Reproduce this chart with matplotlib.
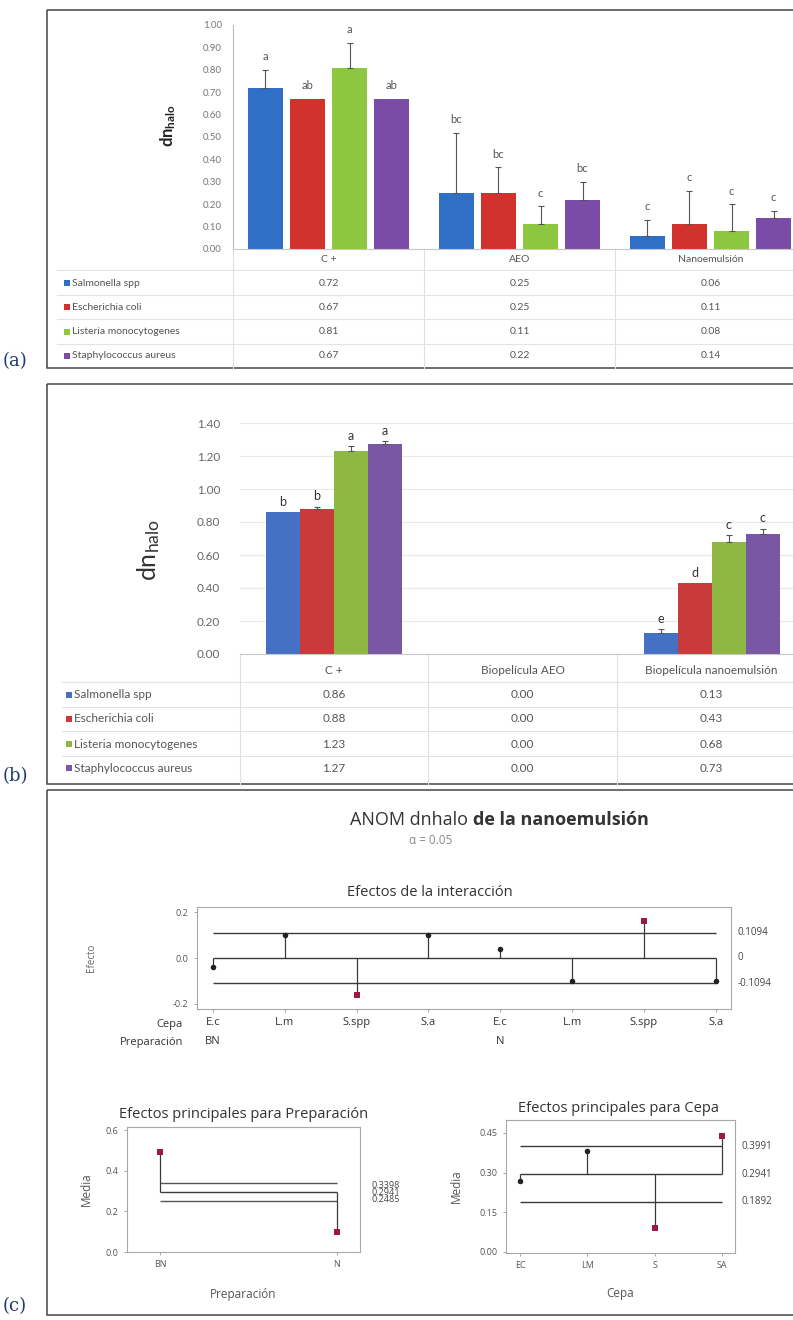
import numpy as np
import matplotlib
matplotlib.use('Agg')
import matplotlib.pyplot as plt
from matplotlib.patches import Rectangle

# ---------------- data ----------------
strains = ['Salmonella spp', 'Escherichia coli', 'Listeria monocytogenes', 'Staphylococcus aureus']

# (a) halo diameter, direct application
groups_a = ['C +', 'AEO', 'Nanoemulsión']
salmonella_a = [0.72, 0.25, 0.06]
ecoli_a = [0.67, 0.25, 0.11]
listeria_a = [0.81, 0.11, 0.08]
staph_a = [0.67, 0.22, 0.14]
err_salmonella_a = [0.08, 0.27, 0.07]
err_ecoli_a = [0.0, 0.115, 0.15]
err_listeria_a = [0.11, 0.08, 0.12]
err_staph_a = [0.0, 0.08, 0.03]
let_salmonella_a = ['a', 'bc', 'c']
let_ecoli_a = ['ab', 'bc', 'c']
let_listeria_a = ['a', 'c', 'c']
let_staph_a = ['ab', 'bc', 'c']

# (b) halo diameter, biofilms
groups_b = ['C +', 'Biopelícula AEO', 'Biopelícula nanoemulsión']
salmonella_b = [0.86, 0.00, 0.13]
ecoli_b = [0.88, 0.00, 0.43]
listeria_b = [1.23, 0.00, 0.68]
staph_b = [1.27, 0.00, 0.73]
err_salmonella_b = [0.0, 0.0, 0.02]
err_ecoli_b = [0.012, 0.0, 0.0]
err_listeria_b = [0.03, 0.0, 0.04]
err_staph_b = [0.02, 0.0, 0.03]
let_salmonella_b = ['b', '', 'e']
let_ecoli_b = ['b', '', 'd']
let_listeria_b = ['a', '', 'c']
let_staph_b = ['a', '', 'c']

# (c) ANOM
inter_cepa = ['E.c', 'L.m', 'S.spp', 'S.a', 'E.c', 'L.m', 'S.spp', 'S.a']
inter_prep = ['BN', 'BN', 'BN', 'BN', 'N', 'N', 'N', 'N']
inter_effect = [-0.04, 0.10, -0.16, 0.10, 0.04, -0.10, 0.16, -0.10]
inter_limit = 0.1094

prep_levels = ['BN', 'N']
prep_means = [0.49, 0.10]
prep_limits = [0.3398, 0.2941, 0.2485]

cepa_levels = ['EC', 'LM', 'S', 'SA']
cepa_means = [0.27, 0.38, 0.09, 0.44]
cepa_limits = [0.3991, 0.2941, 0.1892]

# ---------------- layout ----------------
W, H = 793, 1320
plt.rcParams['font.family'] = ['Lato', 'DejaVu Sans']
plt.rcParams['mathtext.fontset'] = 'custom'
plt.rcParams['mathtext.rm'] = 'Lato'
plt.rcParams['mathtext.bf'] = 'Lato:bold'
plt.rcParams['mathtext.it'] = 'Lato:italic'

fig = plt.figure(figsize=(W / 100, H / 100), dpi=100)


def box(x0, y0, x1, y1):
    return [x0 / W, 1 - y1 / H, (x1 - x0) / W, (y1 - y0) / H]


ov = fig.add_axes([0, 0, 1, 1])
ov.set_xlim(0, W)
ov.set_ylim(H, 0)
ov.axis('off')

# panel frames and labels
for y0, y1, lab, ly in [(10, 368, '(a)', 361), (384, 784, '(b)', 776), (790, 1315, '(c)', 1306)]:
    ov.add_patch(Rectangle((47, y0), W + 20 - 47, y1 - y0, fill=False, ec='#444', lw=1.1))
    ov.text(3, ly, lab, fontsize=13, color='#1F3B73', family='DejaVu Serif', va='center')


def bar_panel(rect, series, errs, lets, colors, width, step, ylim, yticks, letter_kw, letter_off):
    ax = fig.add_axes(rect)
    x = np.arange(3)
    for i, (vals, err, lab, col) in enumerate(zip(series, errs, lets, colors)):
        pos = x + (i - 1.5) * step
        vals = np.array(vals)
        err = np.array(err)
        ax.bar(pos, vals, width, color=col, zorder=2)
        m = err > 0
        ax.errorbar(pos[m], vals[m], yerr=[np.zeros(m.sum()), err[m]], fmt='none',
                    ecolor='#555', elinewidth=0.8, capsize=2.5, capthick=0.8, zorder=3)
        for p, v, e, t in zip(pos, vals, err, lab):
            ax.annotate(t, (p, v + e), xytext=(0, letter_off), textcoords='offset points',
                        ha='center', va='center', **letter_kw)
    ax.set_xlim(-0.5, 2.5)
    ax.set_ylim(*ylim)
    ax.set_yticks(yticks)
    ax.set_yticklabels([f'{t:.2f}' for t in yticks])
    ax.set_xticks([])
    for s in ['top', 'right']:
        ax.spines[s].set_visible(False)
    ax.spines['bottom'].set_color('#c8c8c8')
    ax.patch.set_alpha(0)
    return ax


def data_table(ax, groups, series, colors, zero_px, h_px, head_y, row_y, grid_y, bottom_y,
               name_x, x_left, fs):
    tr = ax.get_xaxis_transform()

    def fy(y):
        return (zero_px - y) / h_px

    for g, name in enumerate(groups):
        ax.text(g, fy(head_y), name, transform=tr, ha='center', va='center',
                fontsize=fs, color='#555', clip_on=False)
    for vals, y, name, col in zip(series, row_y, strains, colors):
        for g, v in enumerate(vals):
            ax.text(g, fy(y), f'{v:.2f}', transform=tr, ha='center', va='center',
                    fontsize=fs, color='#555', clip_on=False)
        ov.add_patch(Rectangle((name_x, y - 3), 6, 6, color=col, lw=0))
        ov.text(name_x + 8, y, name, ha='left', va='center', fontsize=fs, color='#555')
    for y in grid_y:
        ax.plot([x_left, 2.6], [fy(y), fy(y)], transform=tr, color='#e4e4e4', lw=0.8, clip_on=False)
    for xb in [-0.5, 0.5, 1.5]:
        ax.plot([xb, xb], [0, fy(bottom_y)], transform=tr, color='#e0e0e0', lw=0.8, clip_on=False)


# ---------------- (a) ----------------
colors_a = ['#2F6FC6', '#D2322C', '#8DC63F', '#7B4CA7']
ax_a = bar_panel(box(233, 25, 806, 249),
                 [salmonella_a, ecoli_a, listeria_a, staph_a],
                 [err_salmonella_a, err_ecoli_a, err_listeria_a, err_staph_a],
                 [let_salmonella_a, let_ecoli_a, let_listeria_a, let_staph_a],
                 colors_a, 0.185, 0.22, (0, 1.0), np.round(np.arange(0, 1.01, 0.1), 2),
                 dict(fontsize=8, color='#555'), 9.5)
ax_a.spines['left'].set_color('#bbbbbb')
ax_a.tick_params(axis='y', length=0, labelsize=7, labelcolor='#777', pad=8)
ax_a.set_ylabel(r'$\mathbf{dn_{halo}}$', fontsize=12, color='#222')
ax_a.yaxis.set_label_coords(-(233 - 178) / 573, 0.55)
data_table(ax_a, groups_a, [salmonella_a, ecoli_a, listeria_a, staph_a], colors_a,
           249, 224, 259, [283, 307, 332, 356], [270, 295, 319, 344], 368, 64, -1.42, 7.5)

# ---------------- (b) ----------------
colors_b = ['#4571C4', '#C93A3A', '#8FB843', '#7A57A5']
ax_b = bar_panel(box(239.5, 423, 806, 654),
                 [salmonella_b, ecoli_b, listeria_b, staph_b],
                 [err_salmonella_b, err_ecoli_b, err_listeria_b, err_staph_b],
                 [let_salmonella_b, let_ecoli_b, let_listeria_b, let_staph_b],
                 colors_b, 0.18, 0.18, (0, 1.4), np.round(np.arange(0, 1.41, 0.2), 2),
                 dict(fontsize=9, color='#333'), 7.5)
ax_b.spines['left'].set_visible(False)
ax_b.yaxis.grid(True, color='#e8e8e8', lw=0.8, zorder=0)
ax_b.set_axisbelow(True)
ax_b.tick_params(axis='y', length=0, labelsize=8.5, labelcolor='#666', pad=14)
ax_b.set_ylabel(r'dn$_{\mathrm{halo}}$', fontsize=18, color='#333')
ax_b.yaxis.set_label_coords(-(239.5 - 162) / 566.5, 0.45)
data_table(ax_b, groups_b, [salmonella_b, ecoli_b, listeria_b, staph_b], colors_b,
           654, 231, 670, [695, 719, 744, 768], [682, 707, 731, 756], 784, 66, -1.44, 8.5)

# ---------------- (c) ----------------
CF = ['Open Sans', 'DejaVu Sans']
txt = '#333333'
ov.text(468, 820, 'ANOM dnhalo', ha='right', va='center', fontsize=13, color=txt, family=CF)
ov.text(473, 820, 'de la nanoemulsión', ha='left', va='center', fontsize=13, color=txt,
        family=CF, fontweight='bold')
ov.text(431, 840, 'α = 0.05', ha='center', va='center', fontsize=8.5, color='#888', family=CF)
ov.text(430, 893, 'Efectos de la interacción', ha='center', va='center', fontsize=10.5,
        color=txt, family=CF)
ov.text(244, 1115, 'Efectos principales para Preparación', ha='center', va='center',
        fontsize=10.5, color=txt, family=CF)
ov.text(618, 1108, 'Efectos principales para Cepa', ha='center', va='center',
        fontsize=10.5, color=txt, family=CF)

red = '#9B1B40'
line_c = '#3a3a3a'


def anom_style(ax):
    for s in ax.spines.values():
        s.set_color('#a8a8a8')
        s.set_linewidth(0.8)
    ax.tick_params(length=2.5, width=0.6, color='#999', labelsize=6.5, labelcolor='#555')
    for t in ax.get_xticklabels() + ax.get_yticklabels():
        t.set_family(CF)


def points(ax, xs, ys, out):
    xs, ys, out = np.array(xs), np.array(ys), np.array(out)
    ax.scatter(xs[~out], ys[~out], s=16, c='#222', marker='o', zorder=4, lw=0)
    ax.scatter(xs[out], ys[out], s=22, c=red, marker='s', zorder=4, lw=0)


# interaction effects
ax_i = fig.add_axes(box(197, 907, 731, 1009))
xi = np.arange(len(inter_cepa))
eff = np.array(inter_effect)
ax_i.hlines([inter_limit, 0, -inter_limit], xi[0], xi[-1], colors=line_c, lw=1.0)
ax_i.vlines(xi, 0, eff, colors=line_c, lw=0.9)
points(ax_i, xi, eff, np.abs(eff) > inter_limit)
ax_i.set_xlim(-0.22, 7.21)
ax_i.set_ylim(-0.223, 0.223)
ax_i.set_yticks([-0.2, 0.0, 0.2])
ax_i.set_yticklabels(['-0.2', '0.0', '0.2'])
ax_i.set_xticks(xi)
ax_i.set_xticklabels(inter_cepa)
anom_style(ax_i)
ax_i.tick_params(axis='x', labelsize=8, labelcolor='#333', pad=3)
ax_i.set_ylabel('Efecto', fontsize=7, color='#666', family=CF)
ax_i.yaxis.set_label_coords(-(197 - 97) / 534, 0.5)
ytr = ax_i.get_yaxis_transform()
for v, s in [(inter_limit, '0.1094'), (0, '0'), (-inter_limit, '-0.1094')]:
    ax_i.text(1.013, v, s, transform=ytr, ha='left', va='center', fontsize=7, color='#444', family=CF)
xtr = ax_i.get_xaxis_transform()
prev = None
for k, p in enumerate(inter_prep):
    if p != prev:
        ax_i.text(xi[k], -(1042 - 1009) / 102, p, transform=xtr, ha='center', va='center',
                  fontsize=8, color='#333', family=CF)
        prev = p
ov.text(183, 1024, 'Cepa', ha='right', va='center', fontsize=8, color='#333', family=CF)
ov.text(183, 1042, 'Preparación', ha='right', va='center', fontsize=8, color='#333', family=CF)

# main effects: Preparación
ax_p = fig.add_axes(box(127, 1127, 360, 1252))
xp = np.arange(len(prep_levels))
pm = np.array(prep_means)
center = prep_limits[1]
ax_p.hlines(prep_limits, xp[0], xp[-1], colors=['#555', line_c, '#555'], lw=1.0)
ax_p.vlines(xp, center, pm, colors=line_c, lw=0.9)
points(ax_p, xp, pm, (pm > prep_limits[0]) | (pm < prep_limits[2]))
ax_p.set_xlim(-0.186, 1.13)
ax_p.set_ylim(0, 0.615)
ax_p.set_yticks([0.0, 0.2, 0.4, 0.6])
ax_p.set_yticklabels(['0.0', '0.2', '0.4', '0.6'])
ax_p.set_xticks(xp)
ax_p.set_xticklabels(prep_levels)
anom_style(ax_p)
ax_p.set_xlabel('Preparación', fontsize=8.5, color='#555', family=CF)
ax_p.xaxis.set_label_coords(0.5, -(1288 - 1252) / 125)
ax_p.set_ylabel('Media', fontsize=8.5, color='#555', family=CF)
ax_p.yaxis.set_label_coords(-(127 - 93) / 233, 0.5)
ptr = ax_p.get_yaxis_transform()
for v, dy in zip(prep_limits, [-0.012, 0.0, 0.012]):
    ax_p.text(1.05, v + dy, f'{v:.4f}', transform=ptr, ha='left', va='center', fontsize=6.5,
              color='#444', family=CF)

# main effects: Cepa
ax_c = fig.add_axes(box(506, 1120, 735, 1253))
xc = np.arange(len(cepa_levels))
cm = np.array(cepa_means)
center = cepa_limits[1]
ax_c.hlines(cepa_limits, xc[0], xc[-1], colors=line_c, lw=1.0)
ax_c.vlines(xc, center, cm, colors=line_c, lw=0.9)
points(ax_c, xc, cm, (cm > cepa_limits[0]) | (cm < cepa_limits[2]))
ax_c.set_xlim(-0.208, 3.19)
ax_c.set_ylim(-0.004, 0.499)
ax_c.set_yticks([0.0, 0.15, 0.30, 0.45])
ax_c.set_yticklabels(['0.00', '0.15', '0.30', '0.45'])
ax_c.set_xticks(xc)
ax_c.set_xticklabels(cepa_levels)
anom_style(ax_c)
ax_c.set_xlabel('Cepa', fontsize=8.5, color='#555', family=CF)
ax_c.xaxis.set_label_coords(0.5, -(1287 - 1253) / 133)
ax_c.set_ylabel('Media', fontsize=8.5, color='#555', family=CF)
ax_c.yaxis.set_label_coords(-(506 - 463) / 229, 0.5)
ctr = ax_c.get_yaxis_transform()
for v in cepa_limits:
    ax_c.text(1.03, v, f'{v:.4f}', transform=ctr, ha='left', va='center', fontsize=7,
              color='#444', family=CF)

fig.savefig('out.png', dpi=100)
